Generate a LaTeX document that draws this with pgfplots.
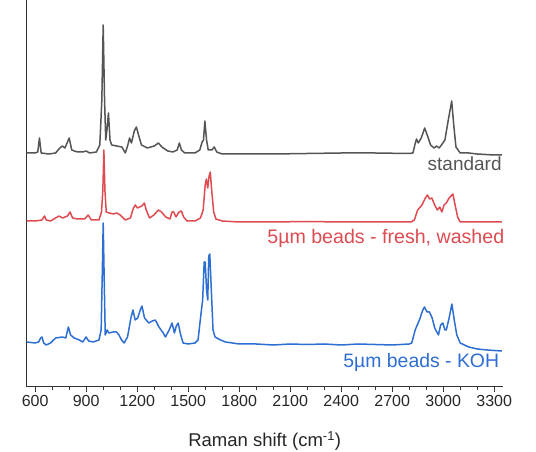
\documentclass[border=0pt]{standalone}
\usepackage{fontspec}
\setmainfont{Liberation Sans}
\usepackage{pgfplots}
\pgfplotsset{compat=1.18}
\usepackage{pgfplotstable}

\definecolor{stdgray}{HTML}{555555}
\definecolor{washred}{HTML}{DE4B50}
\definecolor{kohblue}{HTML}{2D6ED2}
\definecolor{axgray}{HTML}{333333}

% spectra: x = Raman shift, y = pixel row (top = 0)
\pgfplotstableread{
x py
550 153
600 153
615 152
625 138
635 153
680 154
720 153
745 148
760 146
775 148
790 142
800 138
815 150
830 151
850 152
880 152
900 151
920 153
960 152
980 145
992 100
1000 25
1008 100
1015 140
1022 130
1031 113
1040 140
1050 145
1080 146
1110 147
1130 153
1145 145
1155 138
1166 143
1183 131
1195 127
1208 135
1225 145
1260 148
1300 146
1325 143
1345 147
1380 151
1410 152
1435 150
1448 143
1460 150
1480 153
1540 153
1568 150
1582 142
1590 140
1598 121
1608 140
1618 150
1640 150
1653 147
1668 152
1700 154
1800 154
2000 154
2200 153.5
2400 153
2600 153
2800 153.5
2822 153
2836 143
2843 139
2853 143
2871 138
2891 128
2906 135
2926 145
2946 148
2961 146
2976 148
2990 145
3010 140
3030 120
3050 101
3062 125
3075 147
3100 153
3150 153
3200 154
3300 155
3345 155
}\stdtab

\pgfplotstableread{
x py
550 221
600 221
640 220
655 216
665 220
690 221
720 218
740 216
760 218
790 216
805 212
820 218
850 219
890 219
912 215
930 220
975 220
990 212
998 190
1004 150
1010 190
1018 212
1035 213
1060 214
1080 213
1100 215
1130 220
1160 218
1178 208
1189 205
1201 208
1214 207
1228 206
1242 203
1253 210
1273 218
1298 215
1325 210
1343 212
1368 217
1393 219
1405 212
1415 212
1428 217
1446 212
1460 211
1473 217
1493 221
1540 221
1572 218
1588 210
1600 185
1607 179
1615 188
1623 176
1630 172
1638 190
1650 212
1663 219
1700 221
1800 222
2000 222
2200 221.5
2400 222
2600 222
2810 222
2830 220
2850 210
2875 205
2895 198
2907 195
2920 199
2933 198
2950 205
2965 210
2980 207
2992 212
3005 205
3018 203
3035 198
3057 194
3070 205
3085 217
3100 222
3200 222
3345 222
}\redtab

\pgfplotstableread{
x py
550 342
600 343
620 342
632 338
640 337
650 343
665 345
690 343
720 338
760 337
780 338
795 327
808 335
830 338
860 340
880 342
899 337
915 341
940 342
975 340
988 330
995 270
1000 223
1006 280
1012 335
1023 330
1033 333
1058 332
1078 332
1093 335
1108 340
1123 343
1143 337
1163 318
1175 310
1188 320
1203 318
1218 310
1228 306
1243 318
1268 323
1288 321
1307 320
1328 327
1353 333
1366 337
1388 330
1405 323
1419 333
1430 326
1441 323
1456 335
1470 343
1500 344
1540 343
1558 340
1573 317
1585 300
1594 262
1600 262
1608 290
1615 300
1621 256
1627 254
1636 290
1646 330
1658 337
1690 340
1720 342
1800 344
1900 344
2000 345
2100 344
2200 344.5
2300 344
2400 345
2500 344
2600 344.5
2700 345
2800 344
2815 343
2835 330
2860 320
2880 310
2890 307
2905 312
2919 312
2935 318
2950 328
2972 335
2985 325
2998 323
3010 330
3018 330
3035 318
3051 304
3065 320
3080 335
3100 343
3150 347
3200 349
3260 350
3345 351
}\kohtab

\begin{document}
\begin{tikzpicture}
\begin{axis}[
    name=ax,
    scale only axis,
    width=476pt, height=386.7pt,
    xmin=550, xmax=3350,
    ymin=0, ymax=386.7,
    axis x line*=bottom,
    axis y line*=left,
    axis line style={axgray, line width=1.5pt},
    ytick=\empty,
    xtick={600,900,...,3300},
    minor x tick num=2,
    tick align=outside,
    major tick length=5pt,
    minor tick length=3.5pt,
    every tick/.style={axgray, line width=1.3pt},
    /pgf/number format/assume math mode=true,
    /pgf/number format/1000 sep={},
    xticklabel style={font=\fontsize{16}{16}\selectfont, text=black!85},
    xlabel={Raman shift (cm\textsuperscript{-1})},
    xlabel style={font=\fontsize{18.5}{18.5}\selectfont, text=black!85,
        at={(axis description cs:0.5,0)}, anchor=base, yshift=-60pt},
    y filter/.expression={386.7-y},
    clip=false,
]
\addplot[stdgray, line width=1.5pt, line join=round] table[x=x, y=py] {\stdtab};
\addplot[washred, line width=1.5pt, line join=round] table[x=x, y=py] {\redtab};
\addplot[kohblue, line width=1.5pt, line join=round] table[x=x, y=py] {\kohtab};

\node[anchor=base east, inner sep=0pt, text=stdgray, font=\fontsize{19}{19}\selectfont]
    at (axis cs:3345,216) {standard};
\node[anchor=base east, inner sep=0pt, text=washred, font=\fontsize{19.6}{19.6}\selectfont]
    at (axis cs:3360,143) {5µm beads - fresh, washed};
\node[anchor=base east, inner sep=0pt, text=kohblue, font=\fontsize{19.4}{19.4}\selectfont]
    at (axis cs:3330,19) {5µm beads - KOH};
\end{axis}
\pgfresetboundingbox
\path (ax.south west) ++(-26.7pt,-65.3pt) rectangle ([shift={(33.3pt,0pt)}]ax.north east);
\end{tikzpicture}
\end{document}
